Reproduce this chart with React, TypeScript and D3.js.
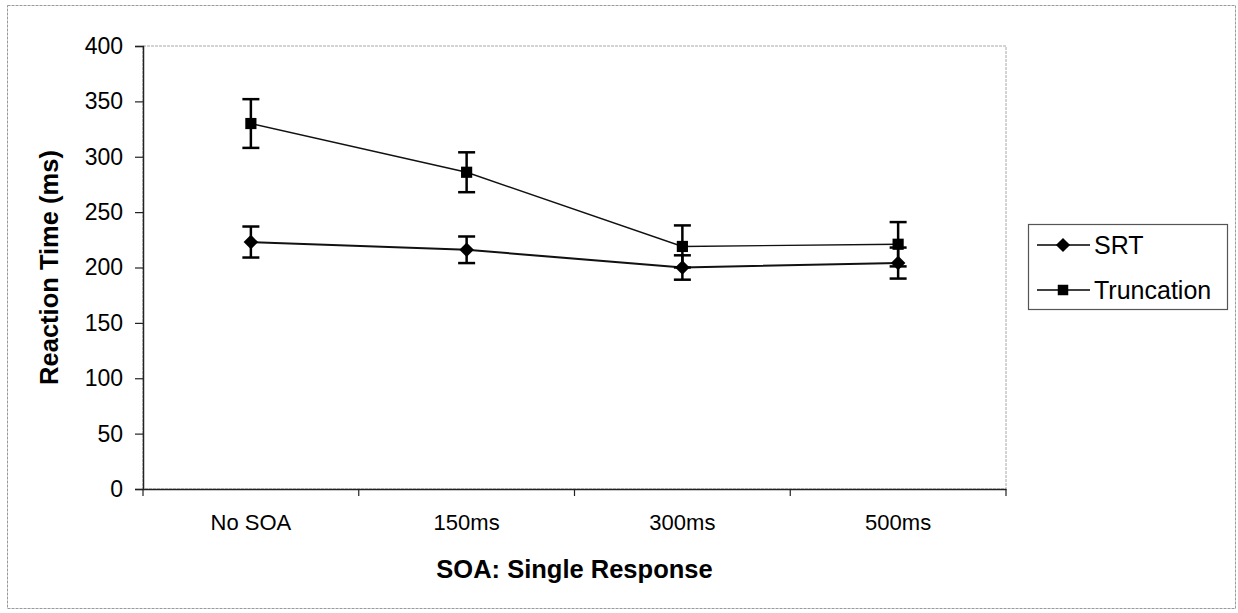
import { useEffect, useRef } from 'react'
import * as d3 from 'd3'

const W = 1238
const H = 613

const categories = ['No SOA', '150ms', '300ms', '500ms']
const srtValues = [223, 216, 200, 204]
const srtErrors = [14, 12, 11, 14]
const truncValues = [330, 286, 219, 221]
const truncErrors = [22, 18, 19, 20]
const yTicks = [0, 50, 100, 150, 200, 250, 300, 350, 400]

const FONT = 'Arial, "Liberation Sans", sans-serif'

export default function App() {
  const svgRef = useRef<SVGSVGElement | null>(null)

  useEffect(() => {
    const svg = d3.select(svgRef.current)
    svg.selectAll('*').remove()

    const plot = { left: 143, right: 1006, top: 46, bottom: 489 }

    const x = d3.scaleBand<string>()
      .domain(categories)
      .range([plot.left, plot.right])
    const y = d3.scaleLinear()
      .domain([0, 400])
      .range([plot.bottom, plot.top])

    // outer chart border
    svg.append('rect')
      .attr('x', 7.5).attr('y', 5.5)
      .attr('width', 1228).attr('height', 603)
      .attr('fill', '#fff')
      .attr('stroke', '#9a9a9a')
      .attr('stroke-width', 1)
      .attr('stroke-dasharray', '3,1')

    // plot area border
    svg.append('rect')
      .attr('x', plot.left).attr('y', plot.top)
      .attr('width', plot.right - plot.left).attr('height', plot.bottom - plot.top)
      .attr('fill', 'none')
      .attr('stroke', '#a8a8a8')
      .attr('stroke-width', 1)
      .attr('stroke-dasharray', '3,1')

    // y axis
    const yAxis = svg.append('g')
      .attr('transform', `translate(${plot.left},0)`)
      .call(d3.axisLeft(y).tickValues(yTicks).tickSize(8).tickPadding(12))
    yAxis.select('.domain').attr('stroke', '#222').attr('stroke-width', 1.5)
    yAxis.selectAll('.tick line').attr('stroke', '#222').attr('stroke-width', 1.2)
    yAxis.selectAll('.tick text')
      .attr('font-family', FONT)
      .attr('font-size', 23)
      .attr('fill', '#000')

    // x axis
    const xAxis = svg.append('g')
      .attr('transform', `translate(0,${plot.bottom})`)
      .call(d3.axisBottom(x).tickSize(0).tickPadding(25))
    xAxis.select('.domain').attr('stroke', '#222').attr('stroke-width', 1.5)
    xAxis.selectAll('.tick text')
      .attr('font-family', FONT)
      .attr('font-size', 22)
      .attr('fill', '#000')

    const bounds = categories.map(c => x(c) as number).concat([plot.right])
    svg.append('g')
      .selectAll('line')
      .data(bounds)
      .enter()
      .append('line')
      .attr('x1', d => d).attr('x2', d => d)
      .attr('y1', plot.bottom).attr('y2', plot.bottom + 7)
      .attr('stroke', '#222')
      .attr('stroke-width', 1.2)

    // axis titles
    svg.append('text')
      .attr('x', (plot.left + plot.right) / 2)
      .attr('y', 578)
      .attr('text-anchor', 'middle')
      .attr('font-family', FONT)
      .attr('font-size', 25.5)
      .attr('font-weight', 'bold')
      .text('SOA: Single Response')

    svg.append('text')
      .attr('transform', `translate(58,${(plot.top + plot.bottom) / 2}) rotate(-90)`)
      .attr('text-anchor', 'middle')
      .attr('font-family', FONT)
      .attr('font-size', 25.5)
      .attr('font-weight', 'bold')
      .text('Reaction Time (ms)')

    const cx = (i: number) => (x(categories[i]) as number) + x.bandwidth() / 2

    const series = [
      { name: 'SRT', values: srtValues, errors: srtErrors, shape: d3.symbolSquare, size: 105, rot: 45, lw: 2 },
      { name: 'Truncation', values: truncValues, errors: truncErrors, shape: d3.symbolSquare, size: 125, rot: 0, lw: 1.4 },
    ]

    const line = d3.line<number>()
      .x((d, i) => cx(i))
      .y(d => y(d))

    series.forEach(s => {
      svg.append('path')
        .datum(s.values)
        .attr('d', line)
        .attr('fill', 'none')
        .attr('stroke', '#111')
        .attr('stroke-width', s.lw)

      const eb = svg.append('g')
      s.values.forEach((v, i) => {
        const px = cx(i)
        const top = y(v + s.errors[i])
        const bot = y(v - s.errors[i])
        eb.append('line')
          .attr('x1', px).attr('x2', px)
          .attr('y1', top).attr('y2', bot)
          .attr('stroke', '#000').attr('stroke-width', 2.5)
        ;[top, bot].forEach(yy => {
          eb.append('line')
            .attr('x1', px - 8.5).attr('x2', px + 8.5)
            .attr('y1', yy).attr('y2', yy)
            .attr('stroke', '#000').attr('stroke-width', 2.5)
        })
      })

      svg.append('g')
        .selectAll('path')
        .data(s.values)
        .enter()
        .append('path')
        .attr('d', d3.symbol().type(s.shape).size(s.size)())
        .attr('transform', (d, i) => `translate(${cx(i)},${y(d)}) rotate(${s.rot})`)
        .attr('fill', '#000')
    })

    // legend
    const lg = svg.append('g')
    lg.append('rect')
      .attr('x', 1028.5).attr('y', 224.5)
      .attr('width', 199).attr('height', 85)
      .attr('fill', '#fff')
      .attr('stroke', '#555')
      .attr('stroke-width', 1.2)
    const rows = [
      { name: 'SRT', size: 100, rot: 45, y: 245 },
      { name: 'Truncation', size: 110, rot: 0, y: 290 },
    ]
    rows.forEach(r => {
      lg.append('line')
        .attr('x1', 1037).attr('x2', 1090)
        .attr('y1', r.y).attr('y2', r.y)
        .attr('stroke', '#000').attr('stroke-width', 1.6)
      lg.append('path')
        .attr('d', d3.symbol().type(d3.symbolSquare).size(r.size)())
        .attr('transform', `translate(1063,${r.y}) rotate(${r.rot})`)
        .attr('fill', '#000')
      lg.append('text')
        .attr('x', 1094)
        .attr('y', r.y + 9)
        .attr('font-family', FONT)
        .attr('font-size', 25)
        .text(r.name)
    })
  }, [])

  return (
    <svg
      ref={svgRef}
      width={W}
      height={H}
      style={{ position: 'absolute', left: 0, top: 0, background: '#fff' }}
    />
  )
}
